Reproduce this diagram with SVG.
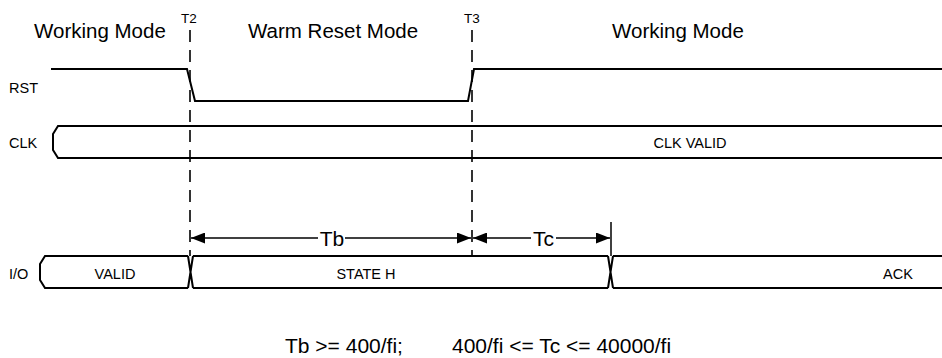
<svg xmlns="http://www.w3.org/2000/svg" width="942" height="358" viewBox="0 0 942 358">
<style>
text{font-family:"Liberation Sans",Arial,sans-serif;fill:#000}
.sig{fill:none;stroke:#000;stroke-width:2}
.dash{fill:none;stroke:#000;stroke-width:1.6;stroke-dasharray:12 8}
.arr{fill:none;stroke:#000;stroke-width:1.5}
.mode{font-size:20.5px}
.lbl{font-size:14.5px}
.tick{font-size:13.5px}
.big{font-size:21px}
</style>
<defs>
<marker id="ah" viewBox="0 0 14 11" refX="14" refY="5.5" markerWidth="14" markerHeight="11" markerUnits="userSpaceOnUse" orient="auto-start-reverse">
<path d="M0,0 L14,5.5 L0,11 Z" fill="#000"/>
</marker>
</defs>
<rect width="942" height="358" fill="#fff"/>
<g id="titles">
<text class="mode" x="34" y="38">Working Mode</text>
<text class="mode" x="248" y="38">Warm Reset Mode</text>
<text class="mode" x="612" y="38">Working Mode</text>
<text class="tick" x="181" y="23">T2</text>
<text class="tick" x="464" y="23">T3</text>
</g>
<g id="markers">
<line class="dash" x1="190" y1="30" x2="190" y2="256"/>
<line class="dash" x1="472" y1="30" x2="472" y2="256"/>
<line class="arr" x1="611" y1="222" x2="611" y2="256"/>
</g>
<g id="rst">
<text class="lbl" x="9" y="93">RST</text>
<polyline class="sig" points="51,69 187,69 195,101 468,101 474,69 942,69"/>
</g>
<g id="clk">
<text class="lbl" x="9" y="148">CLK</text>
<path class="sig" d="M944,126 L58,126 L53,134 L53,150 L58,158 L944,158"/>
<text class="lbl" x="690" y="148" text-anchor="middle">CLK VALID</text>
</g>
<g id="io">
<text class="lbl" x="9" y="279">I/O</text>
<path class="sig" d="M188,256 L45,256 L40,264 L40,280 L45,288 L188,288"/>
<path class="sig" d="M188,256 L193,288 M193,256 L188,288"/>
<path class="sig" d="M193,256 L608,256 M193,288 L608,288"/>
<path class="sig" d="M608,256 L613,288 M613,256 L608,288"/>
<path class="sig" d="M613,256 L944,256 M613,288 L944,288"/>
<text class="lbl" x="115" y="279" text-anchor="middle">VALID</text>
<text class="lbl" x="366" y="279" text-anchor="middle">STATE H</text>
<text class="lbl" x="898" y="279" text-anchor="middle">ACK</text>
</g>
<g id="connectors">
<line class="arr" x1="318" y1="238" x2="191" y2="238" marker-end="url(#ah)"/>
<line class="arr" x1="345" y1="238" x2="471" y2="238" marker-end="url(#ah)"/>
<line class="arr" x1="531" y1="238" x2="473" y2="238" marker-end="url(#ah)"/>
<line class="arr" x1="556" y1="238" x2="610" y2="238" marker-end="url(#ah)"/>
<text class="big" x="332" y="246" text-anchor="middle">Tb</text>
<text class="big" x="543.5" y="246" text-anchor="middle">Tc</text>
</g>
<g id="formula">
<text class="big" x="285" y="353">Tb &gt;= 400/fi;</text>
<text class="big" x="452" y="353">400/fi &lt;= Tc &lt;= 40000/fi</text>
</g>
</svg>
